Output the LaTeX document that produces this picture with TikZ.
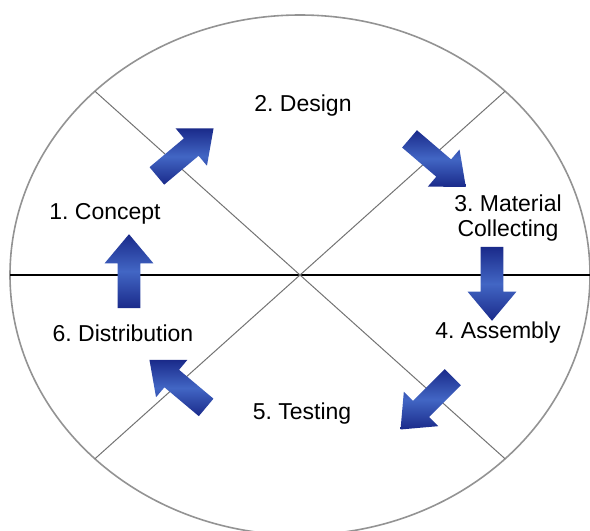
\documentclass[tikz,border=0pt]{standalone}
\usepackage{fontspec}
\setmainfont{Liberation Sans}
\usetikzlibrary{shapes.arrows}
\definecolor{arrowdark}{RGB}{26,42,138}
\definecolor{arrowlight}{RGB}{66,102,196}
\tikzset{
    stage/.style={font=\fontsize{11.5}{12.5}\selectfont, inner sep=1pt},
    blockarrow/.style={single arrow, draw=none, inner xsep=0pt, inner ysep=5.5pt,
        single arrow head extend=6.5pt, single arrow tip angle=80, minimum height=37pt,
        top color=arrowdark, bottom color=arrowdark, middle color=arrowlight}
}
\frenchspacing
\begin{document}
\begin{tikzpicture}[x=0.5pt,y=-0.5pt]
        \useasboundingbox (0,0) rectangle (590,531);
        \coordinate (c) at (300,275);
        \draw[gray!85, line width=0.8pt] (c) ellipse [x radius=290, y radius=260];
        \draw[black, line width=0.6pt] (10,275) -- (590,275);
        \draw[gray!90!black, line width=0.5pt] (94.9,91.2) -- (505.1,458.8);
        \draw[gray!90!black, line width=0.5pt] (505.1,91.2) -- (94.9,458.8);
        \node[stage] (concept) at (105,214) {1. Concept};
        \node[stage] (design) at (303,106) {2. Design};
        \node[stage, align=center] (material) at (508,218) {3. Material\\Collecting};
        \node[stage] (assembly) at (498,333) {4. Assembly};
        \node[stage] (testing) at (302,414) {5. Testing};
        \node[stage] (distribution) at (123,333) {6. Distribution};
        \foreach \pos/\ang/\name in {(180,156.5)/40/toDesign, (432.5,158.5)/-40.5/toMaterial,
            (492,277)/-90/toAssembly, (431.5,398.5)/-135/toTesting,
            (183,388)/140/toDistribution, (129,278)/90/toConcept}{
            \node[blockarrow, rotate=\ang] (\name) at \pos {};
            };
    \end{tikzpicture}
\end{document}
